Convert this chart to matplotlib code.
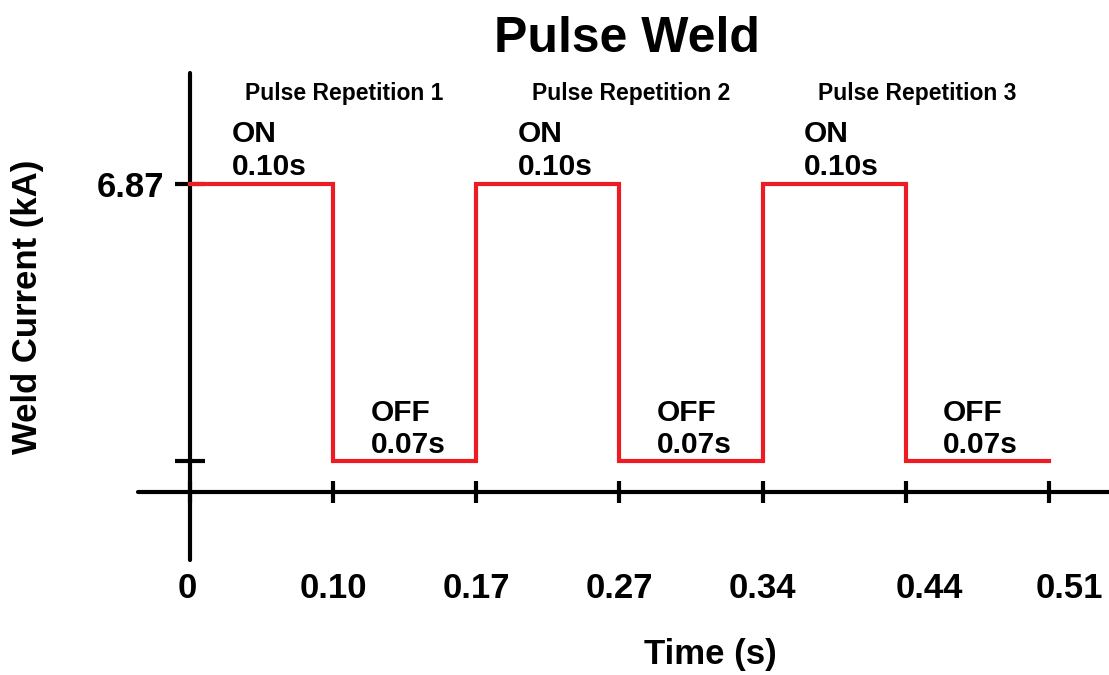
import numpy as np
import matplotlib
matplotlib.use("Agg")
import matplotlib.pyplot as plt
import matplotlib.transforms as mtransforms

plt.rcParams['font.family'] = ['Liberation Sans', 'DejaVu Sans']
plt.rcParams['font.weight'] = 'bold'

# pulse schedule (s) and current levels (kA)
times = [0, 0.10, 0.17, 0.27, 0.34, 0.44, 0.51]
time_labels = ['0', '0.10', '0.17', '0.27', '0.34', '0.44', '0.51']
on_time = 0.10
off_time = 0.07
peak_current = 6.87
base_current = 0.7
n_pulses = 3
rep_labels = ['Pulse Repetition 1', 'Pulse Repetition 2', 'Pulse Repetition 3']

RED = '#ed1c24'

fig = plt.figure(figsize=(11.09, 6.75), dpi=100)
ax = fig.add_axes([0.1244, 0.1704, 0.8756, 0.7215])

# schematic axis: each phase gets one equal slot
pos = np.arange(len(times))
levels = []
for i in range(n_pulses):
    levels += [peak_current, base_current]
levels.append(base_current)

ax.step(pos, levels, where='post', color=RED, lw=3, solid_joinstyle='miter',
        zorder=3)

ax.set_xlim(-0.364, 6.42)
ax.set_ylim(-1.517, 9.35)

for s in ['top', 'right']:
    ax.spines[s].set_visible(False)
ax.spines['left'].set_position(('data', 0))
ax.spines['bottom'].set_position(('data', 0))
for s in ['left', 'bottom']:
    ax.spines[s].set_linewidth(3)
    ax.spines[s].set_capstyle('round')

ax.set_xticks(pos)
ax.set_xticklabels(time_labels)
ax.set_yticks([base_current, peak_current])
ax.set_yticklabels(['', f'{peak_current:.2f}'])
ax.tick_params(axis='x', direction='inout', length=16.5, width=3, pad=49,
               labelsize=25)
ax.tick_params(axis='y', direction='inout', length=21, width=3, pad=8,
               labelsize=25)
for lab in ax.get_xticklabels() + ax.get_yticklabels():
    lab.set_fontweight('bold')

# nudge the outer time labels a little
shifts = [-3, 0, 0, 0, 0, 24, 20]
for lab, dx in zip(ax.get_xticklabels(), shifts):
    if dx:
        lab.set_transform(lab.get_transform() +
                          mtransforms.ScaledTranslation(dx / 100, 0, fig.dpi_scale_trans))

# ON / OFF annotations and repetition labels
for i in range(n_pulses):
    start = pos[2 * i]
    ax.text(start + 0.29, 7.08, f'ON\n{on_time:.2f}s', fontsize=21.5,
            fontweight='bold', ha='left', va='baseline', linespacing=1.22)
    ax.text(start + 1.26, 0.86, f'OFF\n{off_time:.2f}s', fontsize=21.5,
            fontweight='bold', ha='left', va='baseline', linespacing=1.22)
    ax.text(start + 1.08, 8.75, rep_labels[i], fontsize=16.5,
            fontweight='bold', ha='center', va='baseline')

fig.text(0.565, 1 - 52 / 675, 'Pulse Weld', fontsize=36, fontweight='bold',
         ha='center', va='baseline')
fig.text(710 / 1109, 1 - 664 / 675, 'Time (s)', fontsize=25, fontweight='bold',
         ha='center', va='baseline')
fig.text(28 / 1109, 1 - 307 / 675, 'Weld Current (kA)', fontsize=25,
         fontweight='bold', ha='center', va='center', rotation=90)

fig.savefig('out.png', dpi=100)
